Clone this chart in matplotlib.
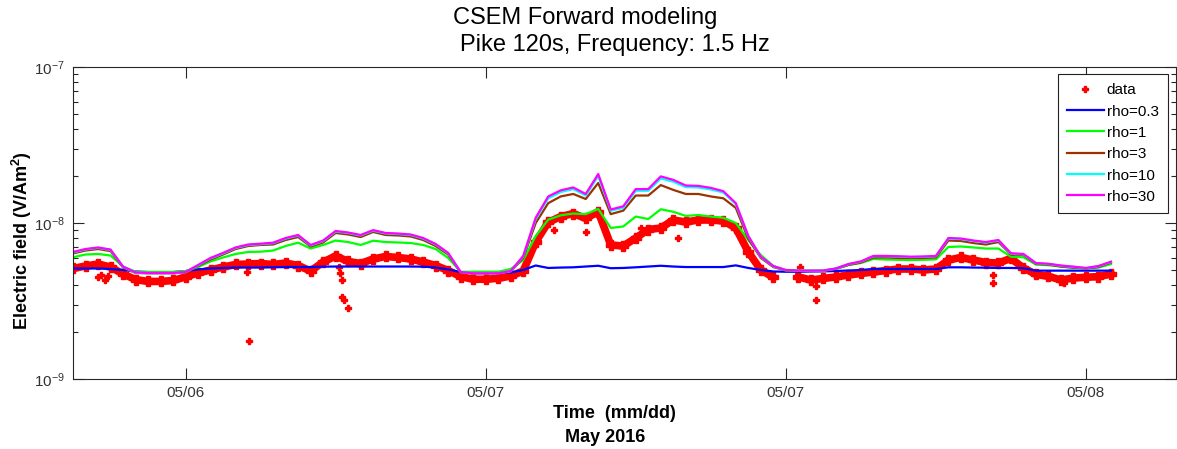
import numpy as np
import matplotlib
matplotlib.use("Agg")
import matplotlib.pyplot as plt
from matplotlib.ticker import NullLocator, NullFormatter, LogLocator

plt.rcParams['font.family'] = ['Liberation Sans', 'DejaVu Sans']
plt.rcParams['mathtext.default'] = 'regular'

# time in hours from 05/06 00:00, sampled every 30 min
hours = np.arange(7.5, 49.01, 0.5)

# modeled field, units of 1e-9 V/Am^2
rho03 = [5.11, 5.11, 5.11, 5.07, 5.0, 4.89, 4.85, 4.85, 4.85, 4.92,
         5.04, 5.11, 5.15, 5.18, 5.18, 5.18, 5.2, 5.22, 5.22, 5.22,
         5.25, 5.26, 5.26, 5.26, 5.26, 5.26, 5.26, 5.26, 5.25, 5.18,
         5.04, 4.85, 4.82, 4.82, 4.82, 4.82, 5.0, 5.34, 5.15, 5.18,
         5.2, 5.26, 5.32, 5.13, 5.15, 5.2, 5.26, 5.32, 5.26, 5.22,
         5.22, 5.22, 5.22, 5.35, 5.15, 5.0, 4.89, 4.87, 4.87, 4.89,
         4.9, 4.92, 4.96, 5.0, 5.07, 5.07, 5.07, 5.07, 5.07, 5.07,
         5.2, 5.2, 5.18, 5.17, 5.15, 5.15, 5.13, 4.95, 4.95, 4.95,
         4.95, 4.95, 4.95, 4.95]
rho1 = [6.03, 6.28, 6.33, 6.19, 5.26, 4.87, 4.85, 4.85, 4.85, 4.92,
        5.22, 5.67, 6.01, 6.33, 6.52, 6.55, 6.66, 7.12, 7.48, 6.86,
        7.23, 7.72, 7.55, 7.23, 7.7, 7.55, 7.5, 7.44, 7.23, 6.81,
        5.97, 4.87, 4.87, 4.87, 4.87, 5.07, 5.79, 8.26, 10.5, 11.2,
        11.5, 11.4, 12.3, 9.29, 9.5, 11.0, 10.6, 12.25, 11.8, 11.1,
        11.25, 11.0, 10.8, 10.0, 7.78, 6.24, 5.3, 4.96, 4.95, 4.95,
        4.95, 5.11, 5.38, 5.54, 5.88, 5.83, 5.81, 5.79, 5.81, 5.84,
        7.02, 7.07, 6.97, 6.86, 6.86, 6.08, 6.03, 5.42, 5.36, 5.26,
        5.15, 5.11, 5.18, 5.46]
rho3 = [6.38, 6.66, 6.81, 6.61, 5.18, 4.78, 4.76, 4.76, 4.76, 4.82,
        5.3, 5.83, 6.28, 6.81, 7.12, 7.23, 7.28, 7.78, 8.13, 7.07,
        7.5, 8.63, 8.44, 8.13, 8.76, 8.38, 8.32, 8.2, 7.78, 7.12,
        6.28, 4.82, 4.75, 4.75, 4.75, 4.89, 5.97, 10.0, 13.4, 14.8,
        15.35, 14.25, 18.05, 11.4, 12.0, 15.0, 15.0, 17.5, 16.3, 15.35,
        15.35, 14.8, 14.4, 12.5, 7.9, 5.97, 5.22, 4.96, 4.92, 4.92,
        4.92, 5.07, 5.38, 5.58, 6.01, 6.01, 5.97, 5.97, 5.97, 6.01,
        7.72, 7.67, 7.44, 7.28, 7.55, 6.28, 6.24, 5.46, 5.42, 5.26,
        5.18, 5.11, 5.22, 5.58]
rho10 = [6.48, 6.77, 6.93, 6.72, 5.24, 4.8, 4.77, 4.77, 4.77, 4.84,
         5.35, 5.93, 6.38, 6.92, 7.23, 7.32, 7.43, 7.95, 8.32, 7.18,
         7.66, 8.82, 8.63, 8.32, 8.93, 8.57, 8.5, 8.38, 7.95, 7.29,
         6.39, 4.84, 4.76, 4.76, 4.76, 4.91, 6.1, 10.6, 14.4, 15.8,
         16.5, 15.0, 20.0, 12.0, 12.5, 16.1, 16.1, 19.3, 18.4, 17.0,
         16.9, 16.4, 15.7, 13.2, 8.2, 6.05, 5.28, 4.99, 4.95, 4.94,
         4.95, 5.1, 5.44, 5.65, 6.12, 6.12, 6.09, 6.05, 6.07, 6.12,
         7.95, 7.89, 7.66, 7.5, 7.72, 6.36, 6.3, 5.52, 5.46, 5.32,
         5.23, 5.14, 5.28, 5.62]
rho30 = [6.52, 6.81, 6.97, 6.76, 5.26, 4.82, 4.78, 4.78, 4.78, 4.85,
         5.38, 5.97, 6.43, 6.97, 7.28, 7.37, 7.48, 8.01, 8.38, 7.23,
         7.72, 8.89, 8.69, 8.38, 9.0, 8.63, 8.56, 8.44, 8.01, 7.34,
         6.43, 4.85, 4.76, 4.76, 4.76, 4.92, 6.15, 10.8, 14.8, 16.2,
         16.9, 15.35, 20.6, 12.2, 12.8, 16.5, 16.5, 19.9, 18.9, 17.4,
         17.3, 16.8, 16.0, 13.4, 8.26, 6.08, 5.3, 5.0, 4.96, 4.95,
         4.96, 5.11, 5.46, 5.67, 6.15, 6.15, 6.12, 6.08, 6.1, 6.15,
         8.01, 7.95, 7.72, 7.55, 7.78, 6.4, 6.33, 5.54, 5.48, 5.34,
         5.25, 5.15, 5.3, 5.65]

# measured field, same units (nan = no data)
nan = np.nan
data = [5.11, 5.3, 5.46, 5.22, 4.71, 4.34, 4.22, 4.22, 4.28, 4.51,
        4.78, 5.0, 5.22, 5.42, 5.46, 5.5, 5.42, 5.54, 5.34, 4.92,
        5.62, 6.15, 5.67, 5.5, 5.88, 6.1, 6.01, 5.88, 5.62, 5.34,
        4.96, 4.53, 4.36, 4.36, 4.42, 4.57, 4.92, 7.55, 10.1, 11.0,
        11.5, 10.7, 11.8, 7.23, 7.12, 8.01, 9.08, 9.29, 10.45, 10.15,
        10.45, 10.45, 10.3, 9.29, 6.52, 5.0, 4.48, nan, 4.51, 4.31,
        4.41, 4.51, 4.64, 4.75, 4.85, 4.96, 5.07, 5.07, 5.0, 5.07,
        5.79, 6.01, 5.79, 5.58, 5.54, 5.93, 5.15, 4.68, 4.55, 4.31,
        4.44, 4.49, 4.53, 4.71]

# isolated readings off the main trend
spike_hours = [8.48, 8.6, 8.76, 8.88, 14.47, 14.53, 18.12, 18.16, 18.24, 18.24, 18.32,
               18.51, 26.72, 28.0, 30.2, 31.68, 36.56, 37.2, 37.2, 44.28, 44.28, 47.12]
spike_vals = [4.51, 4.64, 4.31, 4.57, 4.87, 1.75, 5.25, 4.76, 4.31, 3.37, 3.21,
              2.86, 9.0, 8.76, 9.29, 7.98, 5.25, 3.95, 3.21, 4.64, 4.14, 4.12]

tick_hours = [12, 24, 36, 48]
tick_labels = ["05/06", "05/07", "05/07", "05/08"]
y_ticks = [1e-9, 1e-8, 1e-7]

W, H = 1177, 449
fig = plt.figure(figsize=(W / 100, H / 100), dpi=100)
ax = fig.add_axes([73 / W, 70 / H, 1103 / W, 312 / H])

scale = 1e-9
ax.plot(spike_hours, np.array(spike_vals) * scale, ls="none", marker="P", ms=5,
        color="red", mec="red", label="data")
ax.plot(hours, np.array(data) * scale, color="red", lw=5.5, marker="P", ms=6.5,
        mec="red", label="_nolegend_")
ax.plot(hours, np.array(rho03) * scale, color="#0000ff", lw=1.6, label="rho=0.3")
ax.plot(hours, np.array(rho1) * scale, color="#00ff00", lw=1.6, label="rho=1")
ax.plot(hours, np.array(rho3) * scale, color="#993300", lw=1.6, label="rho=3")
ax.plot(hours, np.array(rho10) * scale, color="#00ffff", lw=1.6, label="rho=10")
ax.plot(hours, np.array(rho30) * scale, color="#ff00ff", lw=1.6, label="rho=30")

ax.set_yscale("log")
ax.set_ylim(1e-9, 1e-7)
ax.set_yticks(y_ticks)
ax.set_xlim(7.5, 51.6)
ax.set_xticks(tick_hours)
ax.set_xticklabels(tick_labels)
ax.xaxis.set_minor_locator(NullLocator())
ax.yaxis.set_minor_locator(LogLocator(base=10, subs=np.arange(2, 10)))
ax.yaxis.set_minor_formatter(NullFormatter())

ax.tick_params(which="both", direction="in", top=True, right=True,
               colors="#262626", labelcolor="#333333")
ax.tick_params(which="major", length=7.9, width=0.8, labelsize=11, pad=6)
ax.tick_params(axis="x", which="major", pad=5)
ax.tick_params(which="minor", length=3.6, width=0.8)
for s in ax.spines.values():
    s.set_color("#262626")
    s.set_linewidth(0.8)

leg = ax.legend(loc="upper right", bbox_to_anchor=((1168 - 73) / 1103, (379 - 74) / 312),
                borderaxespad=0, fancybox=False, framealpha=1, edgecolor="#222222",
                fontsize=11, handlelength=2.4, handletextpad=0.2, labelspacing=0.48,
                borderpad=0.6)
leg.get_frame().set_linewidth(0.8)

fig.text(585 / W, 1 - 18 / H, "CSEM Forward modeling", fontsize=17, ha="center", va="center")
fig.text(615 / W, 1 - 45 / H, "Pike 120s, Frequency: 1.5 Hz", fontsize=17, ha="center", va="center")
fig.text(614 / W, 1 - 413 / H, "Time  (mm/dd)", fontsize=13, fontweight="bold", ha="center", va="center")
fig.text(605 / W, 1 - 437 / H, "May 2016", fontsize=13, fontweight="bold", ha="center", va="center")
fig.text(22 / W, 1 - 241 / H, "Electric field (V/Am$^2$)", fontsize=13, fontweight="bold",
         rotation=90, ha="center", va="center")

fig.savefig("out.png", dpi=100)
